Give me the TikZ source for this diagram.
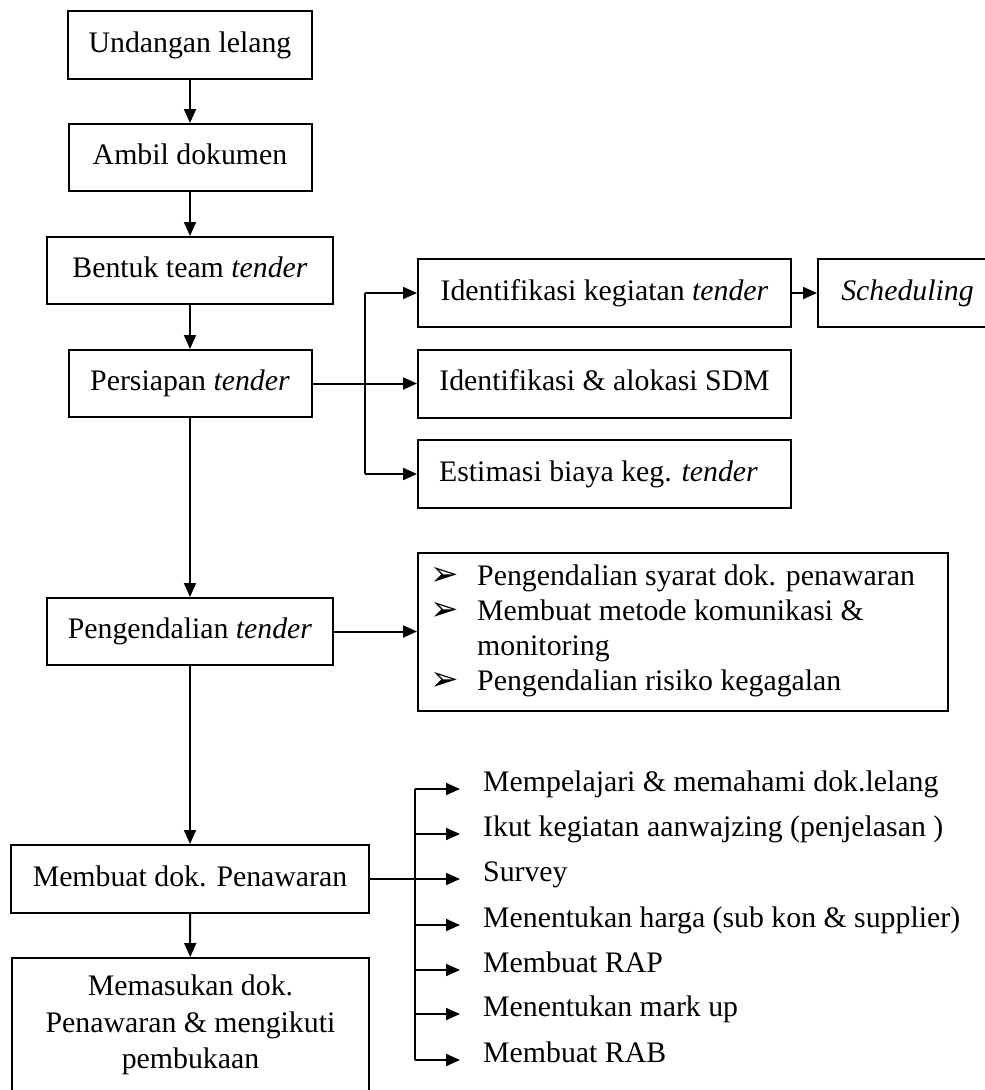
\documentclass[tikz,border=0pt]{standalone}
\usepackage{fontspec}
\setmainfont{Liberation Serif}
\newfontfamily\symfont{DejaVu Sans}
\usetikzlibrary{arrows.meta}
\begin{document}
\begin{tikzpicture}[x=1pt,y=-1pt,
  box/.style={draw, line width=2pt, inner sep=0pt, font=\fontsize{29.8}{36.5}\selectfont},
  one/.style={box, text height=20pt, text depth=6pt},
  txt/.style={inner sep=0pt, anchor=mid west, font=\fontsize{29.8}{36}\selectfont},
  bul/.style={inner sep=0pt, anchor=mid west, font=\symfont\fontsize{34}{34}\selectfont},
  arr/.style={line width=2pt, -{Triangle[length=14pt,width=12pt]}},
  ln/.style={line width=2pt}]
\useasboundingbox (0,0) rectangle (985,1090);

% main column
\node[one, minimum width=244pt, minimum height=68pt] (n1) at (190,45) {Undangan lelang};
\node[one, minimum width=243pt, minimum height=67pt] (n2) at (190,157.5) {Ambil dokumen};
\node[one, minimum width=286pt, minimum height=67pt] (n3) at (190,270.5) {Bentuk team \textit{tender}};
\node[one, minimum width=243pt, minimum height=67pt] (n4) at (190,383.5) {Persiapan \textit{tender}};
\node[one, minimum width=286pt, minimum height=67pt] (n5) at (190,631.5) {Pengendalian \textit{tender}};
\node[one, minimum width=358pt, minimum height=68pt] (n6) at (190,879) {Membuat dok. Penawaran};
\node[box, minimum width=357pt, minimum height=134pt, align=center] (n7) at (190.5,1025)
  {Memasukan dok.\\Penawaran \& mengikuti\\pembukaan};

\draw[arr] (n1) -- (n2);
\draw[arr] (n2) -- (n3);
\draw[arr] (n3) -- (n4);
\draw[arr] (n4) -- (n5);
\draw[arr] (n5) -- (n6);
\draw[arr] (n6) -- (n7);

% persiapan branches
\node[one, minimum width=373pt, minimum height=68pt] (A) at (604.5,293) {Identifikasi kegiatan \textit{tender}};
\node[one, minimum width=179pt, minimum height=68pt] (B) at (907.5,293) {\textit{Scheduling}};
\node[one, minimum width=373pt, minimum height=68pt] (C) at (604.5,383.5) {Identifikasi \& alokasi SDM};
\node[one, minimum width=373pt, minimum height=68pt] (D) at (604.5,474) {Estimasi biaya keg. \textit{tender}\hspace*{12pt}};
\coordinate (pbus) at (365,383.5);
\draw[ln] (A.west -| pbus) -- (D.west -| pbus);
\draw[arr] (A.west -| pbus) -- (A.west);
\draw[arr] (n4.east) -- (C.west);
\draw[arr] (D.west -| pbus) -- (D.west);
\draw[arr] (A) -- (B);

% pengendalian box
\node[box, minimum width=530pt, minimum height=158pt] (E) at (683,632) {};
\draw[arr] (n5.east) -- (n5.east -| E.west);
\node[bul] (e1b) at (430,583) {➢};
\node[bul] (e2b) at (430,618) {➢};
\node[bul] (e4b) at (430,688) {➢};
\node[txt] (e1) at (477,583) {Pengendalian syarat dok. penawaran};
\node[txt] (e2) at (477,618) {Membuat metode komunikasi \&};
\node[txt] (e3) at (477,653) {monitoring};
\node[txt] (e4) at (477,688) {Pengendalian risiko kegagalan};

% membuat dok list
\node[txt] (l1) at (483,789) {Mempelajari \& memahami dok.lelang};
\node[txt] (l2) at (483,834) {Ikut kegiatan aanwajzing (penjelasan )};
\node[txt] (l3) at (483,879) {Survey};
\node[txt] (l4) at (483,925) {Menentukan harga (sub kon \& supplier)};
\node[txt] (l5) at (483,970) {Membuat RAP};
\node[txt] (l6) at (483,1014) {Menentukan mark up};
\node[txt] (l7) at (483,1060) {Membuat RAB};
\coordinate (mbus) at (415,879);
\draw[ln] (l1.mid west -| mbus) -- (l7.mid west -| mbus);
\draw[arr] (l1.mid west -| mbus) -- ([xshift=-23pt]l1.mid west);
\draw[arr] (l2.mid west -| mbus) -- ([xshift=-23pt]l2.mid west);
\draw[arr] (n6.east) -- ([xshift=-23pt]l3.mid west);
\draw[arr] (l4.mid west -| mbus) -- ([xshift=-23pt]l4.mid west);
\draw[arr] (l5.mid west -| mbus) -- ([xshift=-23pt]l5.mid west);
\draw[arr] (l6.mid west -| mbus) -- ([xshift=-23pt]l6.mid west);
\draw[arr] (l7.mid west -| mbus) -- ([xshift=-23pt]l7.mid west);
\end{tikzpicture}
\end{document}
